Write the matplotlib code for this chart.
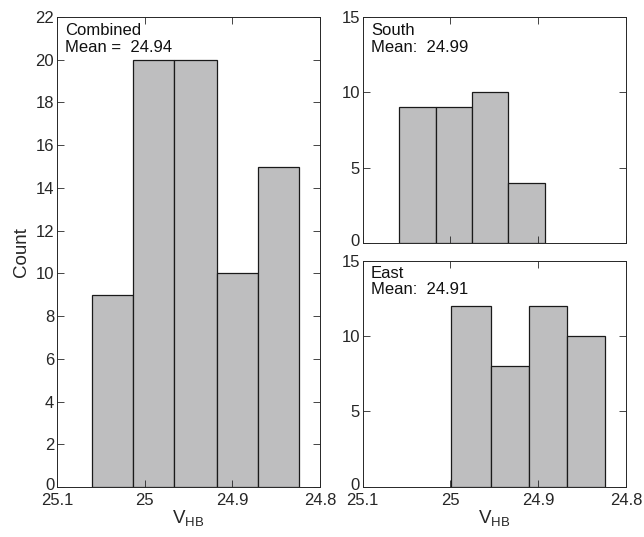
import matplotlib
matplotlib.use("Agg")
import matplotlib.pyplot as plt
import matplotlib.transforms as mtransforms
import numpy as np

plt.rcParams['font.family'] = ['Liberation Sans', 'DejaVu Sans']
plt.rcParams['mathtext.fontset'] = 'custom'
plt.rcParams['mathtext.rm'] = 'Liberation Sans'
plt.rcParams['mathtext.it'] = 'Liberation Sans'

# Data (bin edges in V_HB, decreasing; counts per bin)
combined_edges = [25.060, 25.013, 24.966, 24.918, 24.871, 24.824]
combined_counts = [9, 20, 20, 10, 15]
south_edges = [25.059, 25.017, 24.975, 24.934, 24.892]
south_counts = [9, 9, 10, 4]
east_edges = [24.999, 24.954, 24.911, 24.867, 24.824]
east_counts = [12, 8, 12, 10]

xticks = [25.1, 25.0, 24.9, 24.8]
xtick_labels = ['25.1', '25', '24.9', '24.8']
combined_label = "Combined\nMean =  24.94"
south_label = "South\nMean:  24.99"
east_label = "East\nMean:  24.91"

AX_COLOR = '#262626'
BAR_COLOR = '#bebebf'
EDGE_COLOR = '#1a1a1a'

fig = plt.figure(figsize=(6.44, 5.37), dpi=100)
ax_c = fig.add_axes([0.0885, 0.0931, 0.4084, 0.8752])
ax_s = fig.add_axes([0.5632, 0.5475, 0.4089, 0.4209])
ax_e = fig.add_axes([0.5632, 0.0937, 0.4089, 0.4209])


def draw(ax, edges, counts, ymax, yticks, label, dy):
    edges = np.asarray(edges)
    left = edges[1:]
    width = edges[:-1] - edges[1:]
    ax.bar(left, counts, width=width, align='edge', color=BAR_COLOR,
           edgecolor=EDGE_COLOR, linewidth=0.9)
    ax.set_xlim(25.1, 24.8)
    ax.set_ylim(0, ymax)
    ax.set_xticks(xticks)
    ax.set_xticklabels(xtick_labels)
    ax.set_yticks(yticks)
    ax.tick_params(direction='in', top=True, right=True, length=5,
                   width=0.6, colors=AX_COLOR, labelsize=12, pad=2)
    ax.tick_params(axis='x', pad=4.5)
    for sp in ax.spines.values():
        sp.set_color(AX_COLOR)
        sp.set_linewidth(0.7)
    ax.annotate(label, xy=(0, 1), xycoords='axes fraction',
                xytext=(6, dy), textcoords='offset points',
                ha='left', va='top', fontsize=12, color='#111111',
                linespacing=1.12)
    ax.set_xlabel(r'V$_{\mathrm{HB}}$', fontsize=13.5, color=AX_COLOR, labelpad=0)
    # nudge the bottom y tick label ("0") up slightly so it clears the x labels
    fig.canvas.draw()
    lab0 = ax.get_yticklabels()[0]
    lab0.set_transform(lab0.get_transform() +
                       mtransforms.ScaledTranslation(0, 2 / 72, fig.dpi_scale_trans))


draw(ax_c, combined_edges, combined_counts, 22, range(0, 23, 2), combined_label, -4.5)
ax_c.set_ylabel('Count', fontsize=13.5, color=AX_COLOR, labelpad=4)
draw(ax_s, south_edges, south_counts, 15, [0, 5, 10, 15], south_label, -4.5)
ax_s.set_xlabel('')
ax_s.set_xticklabels([])
draw(ax_e, east_edges, east_counts, 15, [0, 5, 10, 15], east_label, -3.5)

fig.savefig('out.png', dpi=100)
